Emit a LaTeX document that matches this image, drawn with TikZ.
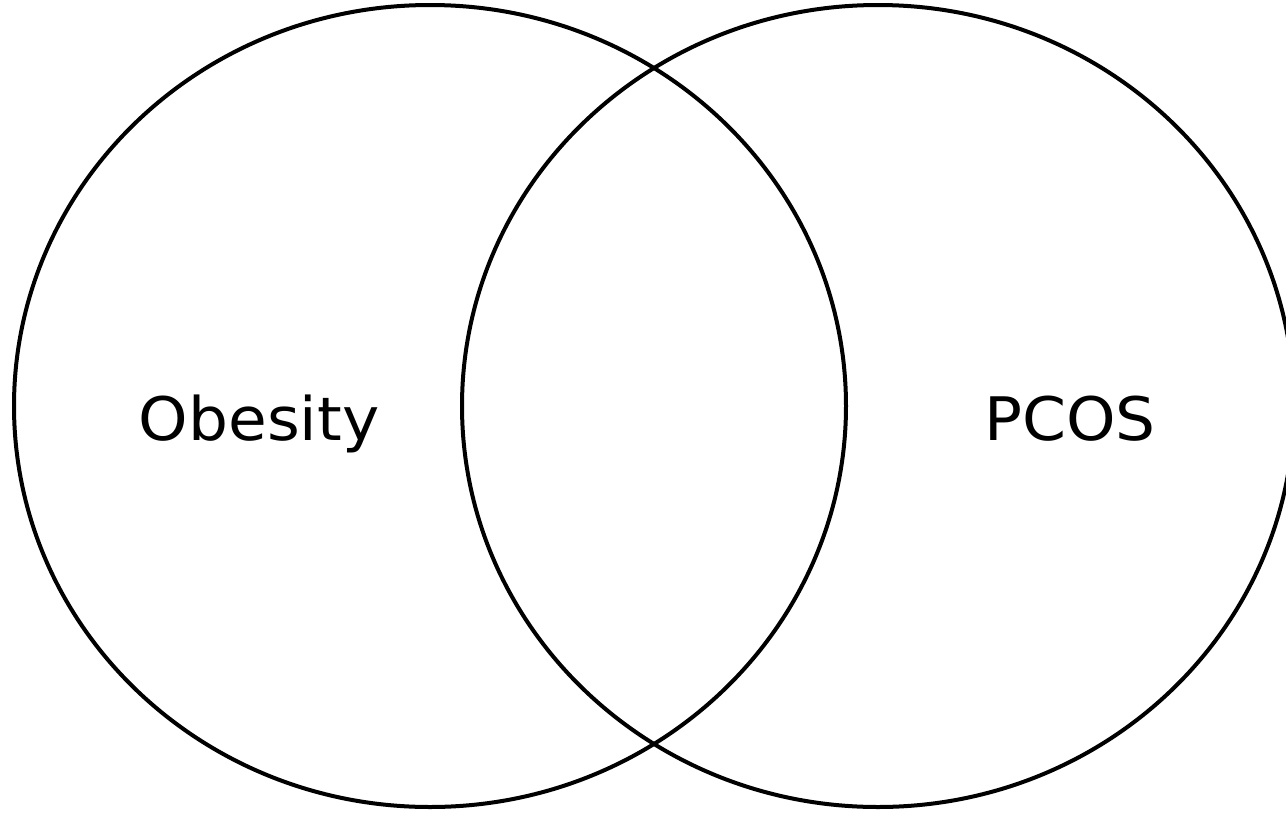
\documentclass[tikz,border=0pt]{standalone}
\usepackage{fontspec}
\setmainfont{DejaVu Sans}
\usetikzlibrary{shapes.geometric}

\begin{document}
\begin{tikzpicture}[
  x=1pt, y=-1pt,
  % ── Set (ellipse) ───────────────────────────────────────
  setshape/.style={
    ellipse,
    draw          = black,
    line width    = 4pt,
    inner sep     = 0pt,
    minimum width = 832pt,
    minimum height= 802pt
  },
  % ── Set label ───────────────────────────────────────────
  setlbl/.style={
    font   = \fontsize{60}{64}\selectfont,
    anchor = base
  }
]
\useasboundingbox (0,0) rectangle (1286,812);

% ── Sets ───────────────────────────────────────────────────
\node[setshape] (obs)  at (430,406) {};
\node[setshape] (pcos) at (878,406) {};

% ── Labels ─────────────────────────────────────────────────
\node[setlbl, xscale=1.05] (obslbl)  at (259,440) {Obesity};
\node[setlbl, xscale=1.05] (pcoslbl) at (1070,440) {PCOS};

\end{tikzpicture}
\end{document}
